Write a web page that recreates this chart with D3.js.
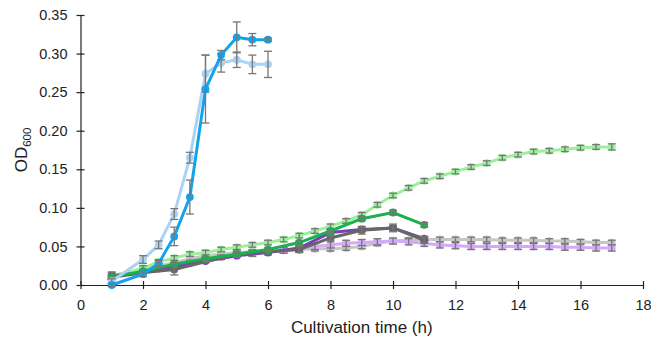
<!DOCTYPE html>
<html>
<head>
<meta charset="utf-8">
<script src="https://cdn.jsdelivr.net/npm/d3@7"></script>
<style>
  body { margin: 0; background: #fff; }
  svg { display: block; font-family: "Liberation Sans", Arial, sans-serif; }
</style>
</head>
<body>
<div id="chart"></div>
<script>
// time points (h)
const tHalf = [1, 2, 2.5, 3, 3.5, 4, 4.5, 5, 5.5, 6, 6.5, 7, 7.5, 8, 8.5, 9, 9.5, 10, 10.5, 11,
  11.5, 12, 12.5, 13, 13.5, 14, 14.5, 15, 15.5, 16, 16.5, 17];
const tBlue = [1, 2, 2.5, 3, 3.5, 4, 4.5, 5, 5.5, 6];
const tHour = [1, 2, 3, 4, 5, 6, 7, 8, 9, 10, 11];
const tGray = [1, 3, 5, 7, 8, 9, 10, 11];

// OD600 values
const lightGrayVals = [0.012, 0.020, 0.025, 0.029, 0.034, 0.038, 0.040, 0.042, 0.043, 0.044, 0.045, 0.046, 0.047, 0.047, 0.048, 0.050,
  0.054, 0.057, 0.058, 0.059, 0.059, 0.059, 0.059, 0.059, 0.058, 0.058, 0.058, 0.057, 0.057, 0.056, 0.055, 0.055];
const lightGrayErr = [0.004, 0.003, 0.003, 0.003, 0.003, 0.003, 0.003, 0.003, 0.003, 0.003, 0.003, 0.003, 0.003, 0.003, 0.003, 0.003,
  0.003, 0.003, 0.003, 0.003, 0.003, 0.003, 0.003, 0.003, 0.003, 0.003, 0.003, 0.003, 0.003, 0.003, 0.003, 0.003];
const lightPurpleVals = [0.010, 0.017, 0.021, 0.025, 0.029, 0.033, 0.036, 0.039, 0.041, 0.043, 0.045, 0.047, 0.050, 0.052, 0.054, 0.055,
  0.056, 0.057, 0.056, 0.054, 0.052, 0.051, 0.050, 0.050, 0.050, 0.050, 0.050, 0.050, 0.049, 0.049, 0.048, 0.048];
const lightPurpleErr = [0.003, 0.003, 0.003, 0.003, 0.003, 0.003, 0.003, 0.003, 0.004, 0.004, 0.004, 0.004, 0.004, 0.004, 0.004, 0.004,
  0.004, 0.004, 0.004, 0.004, 0.004, 0.004, 0.004, 0.004, 0.004, 0.004, 0.004, 0.004, 0.004, 0.004, 0.004, 0.004];
const lightGreenVals = [0.010, 0.022, 0.030, 0.035, 0.040, 0.042, 0.046, 0.049, 0.052, 0.055, 0.059, 0.064, 0.070, 0.076, 0.083, 0.091,
  0.104, 0.116, 0.126, 0.135, 0.141, 0.147, 0.153, 0.158, 0.165, 0.169, 0.173, 0.174, 0.176, 0.178, 0.179, 0.179];
const lightGreenErr = [0.003, 0.003, 0.003, 0.003, 0.003, 0.003, 0.003, 0.003, 0.003, 0.003, 0.003, 0.003, 0.003, 0.003, 0.003, 0.003,
  0.003, 0.003, 0.003, 0.003, 0.003, 0.003, 0.003, 0.003, 0.003, 0.003, 0.003, 0.003, 0.003, 0.003, 0.003, 0.004];
const darkPurpleVals = [0.010, 0.016, 0.024, 0.031, 0.038, 0.042, 0.048, 0.068, 0.072, 0.074, 0.060];
const darkPurpleErr = [0.003, 0.002, 0.002, 0.002, 0.002, 0.002, 0.002, 0.003, 0.003, 0.003, 0.003];
const darkGrayVals = [0.012, 0.020, 0.040, 0.046, 0.061, 0.071, 0.074, 0.058];
const darkGrayErr = [0.005, 0.007, 0.003, 0.004, 0.003, 0.005, 0.005, 0.004];
const darkGreenVals = [0.010, 0.018, 0.027, 0.034, 0.040, 0.046, 0.055, 0.070, 0.086, 0.094, 0.078];
const darkGreenErr = [0.002, 0.002, 0.002, 0.002, 0.002, 0.002, 0.002, 0.002, 0.003, 0.003, 0.003];
const lightBlueVals = [0.005, 0.033, 0.052, 0.092, 0.165, 0.274, 0.288, 0.292, 0.286, 0.286];
const lightBlueErr = [0.003, 0.005, 0.005, 0.007, 0.007, 0.024, 0.012, 0.010, 0.012, 0.017];
const darkBlueVals = [0.000, 0.014, 0.028, 0.063, 0.114, 0.254, 0.298, 0.321, 0.318, 0.318];
const darkBlueErr = [0.002, 0.003, 0.004, 0.012, 0.022, 0.044, 0.006, 0.020, 0.008, 0.002];

const xTicks = [0, 2, 4, 6, 8, 10, 12, 14, 16, 18];
const yTicks = [0, 0.05, 0.10, 0.15, 0.20, 0.25, 0.30, 0.35];

const series = [
  { t: tHalf, v: lightGrayVals, e: lightGrayErr, color: "#c6c6c6" },
  { t: tHalf, v: lightPurpleVals, e: lightPurpleErr, color: "#d4a9f7" },
  { t: tHalf, v: lightGreenVals, e: lightGreenErr, color: "#9cf09c" },
  { t: tHour, v: darkPurpleVals, e: darkPurpleErr, color: "#7a3fb8" },
  { t: tGray, v: darkGrayVals, e: darkGrayErr, color: "#676767" },
  { t: tHour, v: darkGreenVals, e: darkGreenErr, color: "#19b04e" },
  { t: tBlue, v: lightBlueVals, e: lightBlueErr, color: "#a9d3f5" },
  { t: tBlue, v: darkBlueVals, e: darkBlueErr, color: "#13a3ee" }
];

const width = 651, height = 341;
const margin = { top: 15, right: 8, bottom: 56, left: 80.5 };

const svg = d3.select("#chart").append("svg")
  .attr("width", width)
  .attr("height", height);

const x = d3.scaleLinear().domain([0, 18]).range([margin.left, width - margin.right]);
const y = d3.scaleLinear().domain([0, 0.35]).range([height - margin.bottom, margin.top]);

// axes
svg.append("g")
  .attr("transform", `translate(0,${y(0)})`)
  .call(d3.axisBottom(x).tickValues(xTicks).tickFormat(d3.format("d")).tickSizeOuter(0).tickSizeInner(4).tickPadding(11))
  .call(g => g.selectAll(".tick line").attr("y1", -4).attr("y2", 4))
  .call(g => g.select(".domain").attr("stroke", "#222").attr("stroke-width", 1.2))
  .call(g => g.selectAll(".tick line").attr("stroke", "#222").attr("stroke-width", 1.2))
  .call(g => g.selectAll("text").attr("font-size", 14.5).attr("fill", "#222")
    .attr("font-family", "Liberation Sans, Arial, sans-serif"));

svg.append("g")
  .attr("transform", `translate(${x(0)},0)`)
  .call(d3.axisLeft(y).tickValues(yTicks).tickFormat(d3.format(".2f")).tickSizeOuter(0).tickSizeInner(4).tickPadding(9))
  .call(g => g.selectAll(".tick line").attr("x1", 4).attr("x2", -4))
  .call(g => g.select(".domain").attr("stroke", "#222").attr("stroke-width", 1.2))
  .call(g => g.selectAll(".tick line").attr("stroke", "#222").attr("stroke-width", 1.2))
  .call(g => g.selectAll("text").attr("font-size", 14.5).attr("fill", "#222")
    .attr("font-family", "Liberation Sans, Arial, sans-serif"));

// axis titles
svg.append("text")
  .attr("x", (x(0) + x(18)) / 2)
  .attr("y", 333)
  .attr("text-anchor", "middle")
  .attr("font-size", 17)
  .attr("fill", "#222")
  .text("Cultivation time (h)");

const yt = svg.append("text")
  .attr("transform", `translate(27,${(y(0) + y(0.35)) / 2}) rotate(-90)`)
  .attr("text-anchor", "middle")
  .attr("font-size", 17)
  .attr("fill", "#222");
yt.append("tspan").text("OD");
yt.append("tspan").attr("font-size", 11.5).attr("dy", 4).text("600");

const line = d3.line().x(d => x(d.t)).y(d => y(d.v));

series.forEach(s => {
  const pts = s.t.map((t, i) => ({ t, v: s.v[i], e: s.e[i] }));
  const g = svg.append("g");

  g.append("path")
    .datum(pts)
    .attr("fill", "none")
    .attr("stroke", s.color)
    .attr("stroke-width", 3)
    .attr("d", line);

  g.selectAll("circle")
    .data(pts)
    .enter()
    .append("circle")
    .attr("cx", d => x(d.t))
    .attr("cy", d => y(d.v))
    .attr("r", 3.9)
    .attr("fill", s.color);

  // error bars
  const eb = g.selectAll(".eb")
    .data(pts)
    .enter()
    .append("g")
    .attr("stroke", "#777")
    .attr("stroke-width", 1.3);
  eb.append("line")
    .attr("x1", d => x(d.t)).attr("x2", d => x(d.t))
    .attr("y1", d => y(d.v + d.e)).attr("y2", d => y(d.v - d.e));
  eb.append("line")
    .attr("x1", d => x(d.t) - 4).attr("x2", d => x(d.t) + 4)
    .attr("y1", d => y(d.v + d.e)).attr("y2", d => y(d.v + d.e));
  eb.append("line")
    .attr("x1", d => x(d.t) - 4).attr("x2", d => x(d.t) + 4)
    .attr("y1", d => y(d.v - d.e)).attr("y2", d => y(d.v - d.e));
});
</script>
</body>
</html>
